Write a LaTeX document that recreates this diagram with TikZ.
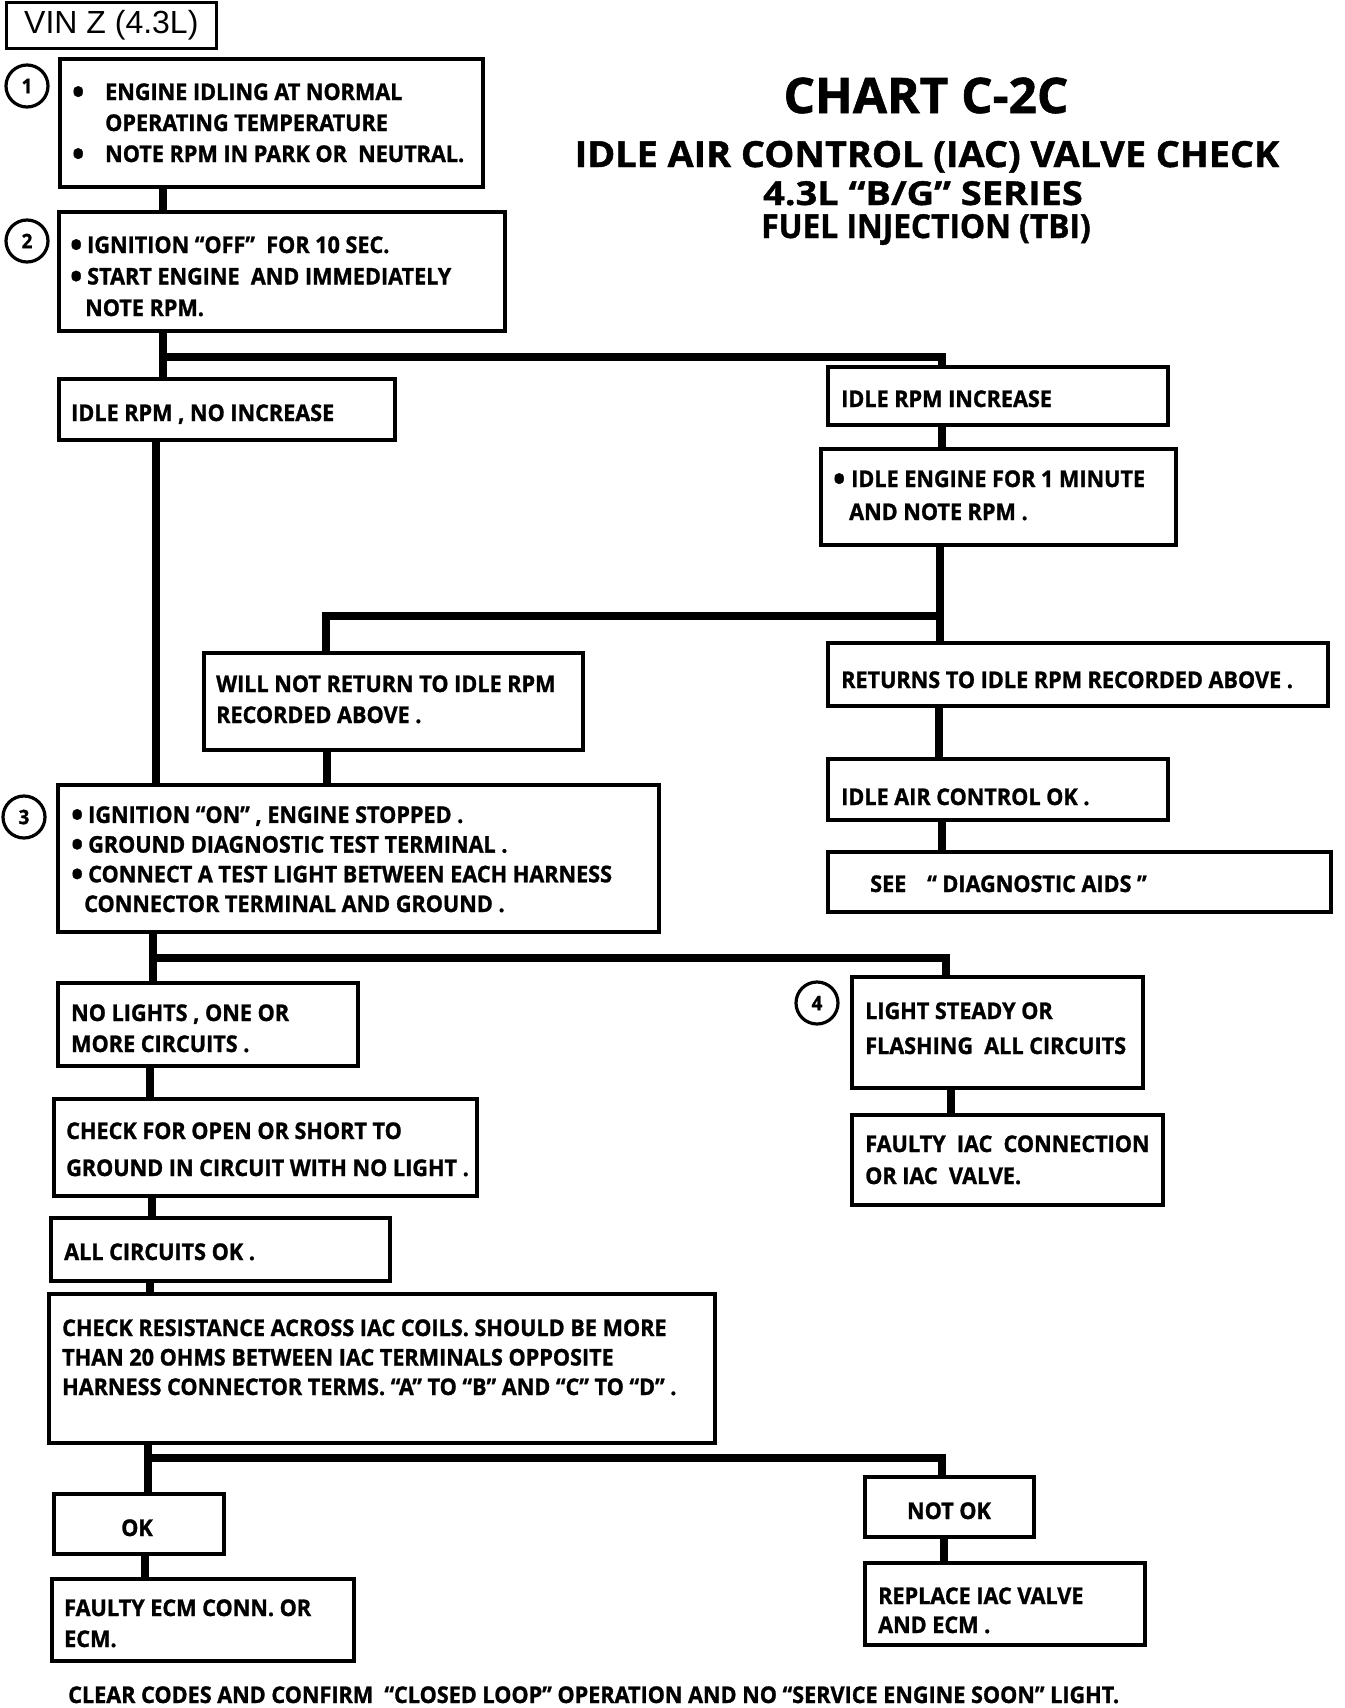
\documentclass[tikz,border=0pt]{standalone}
\usepackage{fontspec}
\setmainfont{Open Sans}
\newfontfamily\bodyf{Open Sans}[FakeStretch=0.94, BoldFeatures={FakeBold=1.2}]
\newfontfamily\titlef{Open Sans}[BoldFeatures={FakeBold=1.2}]
\newfontfamily\arialf{Liberation Sans}
\newcommand\bigbul{\raisebox{-4pt}{\smash{\fontsize{34}{34}\selectfont\textbullet}}}
\begin{document}
\begin{tikzpicture}[x=1pt,y=-1pt,
  box/.style={draw, line width=3.5pt, anchor=north west, inner sep=0pt, outer sep=0pt},
  conn/.style={line width=8pt},
  txt/.style={anchor=base west, align=left, inner sep=0pt, font=\bodyf\bfseries\fontsize{23}{31}\selectfont},
  ctxt/.style={anchor=base, inner sep=0pt, font=\bodyf\bfseries\fontsize{23}{31}\selectfont},
  circ/.style={draw, circle, line width=3.2pt, minimum size=42pt, inner sep=0pt, font=\bodyf\bfseries\fontsize{20}{20}\selectfont},
  ttl/.style={anchor=base, inner sep=0pt},
]
\useasboundingbox[fill=white] (0,0) rectangle (1344,1708);

% title
\node[ttl, font=\titlef\bfseries\addfontfeatures{FakeStretch=1.01}\fontsize{49}{49}\selectfont] (title1) at (926,113) {CHART C-2C};
\node[ttl, font=\titlef\bfseries\addfontfeatures{FakeStretch=1.05}\fontsize{36}{36}\selectfont] (title2) at (927,167) {IDLE AIR CONTROL (IAC) VALVE CHECK};
\node[ttl, font=\titlef\bfseries\addfontfeatures{FakeStretch=1.15}\fontsize{33}{33}\selectfont] (title3) at (923,205) {4.3L “B/G” SERIES};
\node[ttl, font=\titlef\bfseries\addfontfeatures{FakeStretch=0.96}\fontsize{33}{33}\selectfont] (title4) at (926,238) {FUEL INJECTION (TBI)};

% VIN box
\node[box, line width=3pt, minimum width=210pt, minimum height=46pt] (vin) at (6,2) {};
\node[anchor=base west, inner sep=0pt, font=\arialf\fontsize{32}{32}\selectfont] (tvin) at (24,33) {VIN Z (4.3L)};

% boxes
\node[box, minimum width=423pt, minimum height=128pt] (b1) at (60,59) {};
\node[box, minimum width=446pt, minimum height=119pt] (b2) at (59,212) {};
\node[box, minimum width=336pt, minimum height=61pt] (nInc) at (59,379) {};
\node[box, minimum width=340pt, minimum height=58pt] (inc) at (828,367) {};
\node[box, minimum width=355pt, minimum height=96pt] (idle1) at (821,449) {};
\node[box, minimum width=379pt, minimum height=97pt] (wnr) at (204,653) {};
\node[box, minimum width=500pt, minimum height=63pt] (ret) at (828,643) {};
\node[box, minimum width=340pt, minimum height=61pt] (iacok) at (828,759) {};
\node[box, minimum width=503pt, minimum height=60pt] (see) at (828,852) {};
\node[box, minimum width=601pt, minimum height=147pt] (b3) at (58,785) {};
\node[box, minimum width=300pt, minimum height=83pt] (nol) at (58,983) {};
\node[box, minimum width=423pt, minimum height=97pt] (chk) at (54,1099) {};
\node[box, minimum width=339pt, minimum height=63pt] (allok) at (51,1218) {};
\node[box, minimum width=666pt, minimum height=149pt] (res) at (49,1294) {};
\node[box, minimum width=170pt, minimum height=60pt] (ok) at (54,1494) {};
\node[box, minimum width=302pt, minimum height=82pt] (fecm) at (52,1579) {};
\node[box, minimum width=291pt, minimum height=111pt] (steady) at (852,977) {};
\node[box, minimum width=311pt, minimum height=90pt] (fiac) at (852,1115) {};
\node[box, minimum width=169pt, minimum height=60pt] (notok) at (865,1477) {};
\node[box, minimum width=280pt, minimum height=82pt] (repl) at (865,1563) {};

% step circles
\node[circ] (c1) at (27,86) {1};
\node[circ] (c2) at (27,241) {2};
\node[circ] (c3) at (24,817) {3};
\node[circ] (c4) at (817,1003) {4};

% texts (anchor = baseline of the last line)
\node[txt] (t1) at (72,162) {\makebox[33pt][l]{\bigbul}ENGINE IDLING AT NORMAL\\\hspace*{33pt}OPERATING TEMPERATURE\\\makebox[33pt][l]{\bigbul}NOTE RPM IN PARK OR~ NEUTRAL.};
\node[txt, font=\bodyf\bfseries\fontsize{23}{31.5}\selectfont] (t2) at (70,316) {\makebox[17pt][l]{\bigbul}IGNITION “OFF”~ FOR 10 SEC.\\\makebox[17pt][l]{\bigbul}START ENGINE~ AND IMMEDIATELY\\\hspace*{15pt}NOTE RPM.};
\node[txt] (tnInc) at (71,421) {IDLE RPM , NO INCREASE};
\node[txt] (tinc) at (841,407) {IDLE RPM INCREASE};
\node[txt, font=\bodyf\bfseries\fontsize{23}{33}\selectfont] (tidle) at (833,520) {\makebox[18pt][l]{\bigbul}IDLE ENGINE FOR 1 MINUTE\\\hspace*{16pt}AND NOTE RPM .};
\node[txt] (twnr) at (216,723) {WILL NOT RETURN TO IDLE RPM\\RECORDED ABOVE .};
\node[txt] (tret) at (841,688) {RETURNS TO IDLE RPM RECORDED ABOVE .};
\node[txt] (tiac) at (841,805) {IDLE AIR CONTROL OK .};
\node[txt] (tsee) at (870,892) {\makebox[57pt][l]{SEE}“ DIAGNOSTIC AIDS ”};
\node[txt, font=\bodyf\bfseries\fontsize{23}{29.7}\selectfont] (t3) at (71,912) {\makebox[17pt][l]{\bigbul}IGNITION “ON” , ENGINE STOPPED .\\\makebox[17pt][l]{\bigbul}GROUND DIAGNOSTIC TEST TERMINAL .\\\makebox[17pt][l]{\bigbul}CONNECT A TEST LIGHT BETWEEN EACH HARNESS\\\hspace*{13pt}CONNECTOR TERMINAL AND GROUND .};
\node[txt] (tnol) at (71,1052) {NO LIGHTS , ONE OR\\MORE CIRCUITS .};
\node[txt, font=\bodyf\bfseries\fontsize{23}{37}\selectfont] (tchk) at (66,1176) {CHECK FOR OPEN OR SHORT TO\\GROUND IN CIRCUIT WITH NO LIGHT .};
\node[txt] (tall) at (64,1260) {ALL CIRCUITS OK .};
\node[txt, font=\bodyf\bfseries\fontsize{23}{29.5}\selectfont] (tres) at (62,1395) {CHECK RESISTANCE ACROSS IAC COILS. SHOULD BE MORE\\THAN 20 OHMS BETWEEN IAC TERMINALS OPPOSITE\\HARNESS CONNECTOR TERMS. “A” TO “B” AND “C” TO “D” .};
\node[ctxt] (tok) at (137,1536) {OK};
\node[txt] (tfecm) at (64,1647) {FAULTY ECM CONN. OR\\ECM.};
\node[txt, font=\bodyf\bfseries\fontsize{23}{35}\selectfont] (tsteady) at (865,1054) {LIGHT STEADY OR\\FLASHING~ ALL CIRCUITS};
\node[txt, font=\bodyf\bfseries\fontsize{23}{32}\selectfont] (tfiac) at (865,1184) {FAULTY~ IAC~ CONNECTION\\OR IAC~ VALVE.};
\node[ctxt] (tnotok) at (949,1519) {NOT OK};
\node[txt, font=\bodyf\bfseries\fontsize{23}{29}\selectfont] (trepl) at (878,1633) {REPLACE IAC VALVE\\AND ECM .};
\node[txt] (tfoot) at (68,1703) {CLEAR CODES AND CONFIRM~ “CLOSED LOOP” OPERATION AND NO “SERVICE ENGINE SOON” LIGHT.};

% connectors
\draw[conn] ([xshift=103pt]b1.south west) -- ([xshift=103pt]b1.south west |- b2.north);
\draw[conn] ([xshift=104pt]b2.south west) -- ([xshift=104pt]b2.south west |- nInc.north);
\coordinate (j1) at (163,357);
\draw[conn, line join=miter] (j1) -| ([xshift=114pt]inc.north west);
\draw[conn] ([xshift=97pt]nInc.south west) -- ([xshift=97pt]nInc.south west |- b3.north);
\draw[conn] ([xshift=114pt]inc.south west) -- ([xshift=114pt]inc.south west |- idle1.north);
\draw[conn] ([xshift=119pt]idle1.south west) -- ([xshift=119pt]idle1.south west |- ret.north);
\coordinate (j2) at (940,616);
\draw[conn, line join=miter] (j2) -| ([xshift=122pt]wnr.north west);
\draw[conn] ([xshift=123pt]wnr.south west) -- ([xshift=123pt]wnr.south west |- b3.north);
\draw[conn] ([xshift=111pt]ret.south west) -- ([xshift=111pt]ret.south west |- iacok.north);
\draw[conn] ([xshift=114pt]iacok.south west) -- ([xshift=114pt]iacok.south west |- see.north);
\draw[conn] ([xshift=95pt]b3.south west) -- ([xshift=95pt]b3.south west |- nol.north);
\coordinate (j3) at (153,958);
\draw[conn, line join=miter] (j3) -| ([xshift=94pt]steady.north west);
\draw[conn] ([xshift=92pt]nol.south west) -- ([xshift=92pt]nol.south west |- chk.north);
\draw[conn] ([xshift=99pt]steady.south west) -- ([xshift=99pt]steady.south west |- fiac.north);
\draw[conn] ([xshift=98pt]chk.south west) -- ([xshift=98pt]chk.south west |- allok.north);
\draw[conn] ([xshift=99pt]allok.south west) -- ([xshift=99pt]allok.south west |- res.north);
\draw[conn] ([xshift=99pt]res.south west) -- ([xshift=99pt]res.south west |- ok.north);
\coordinate (j4) at (148,1458);
\draw[conn, line join=miter] (j4) -| ([xshift=77pt]notok.north west);
\draw[conn] ([xshift=91pt]ok.south west) -- ([xshift=91pt]ok.south west |- fecm.north);
\draw[conn] ([xshift=79pt]notok.south west) -- ([xshift=79pt]notok.south west |- repl.north);
\end{tikzpicture}
\end{document}
